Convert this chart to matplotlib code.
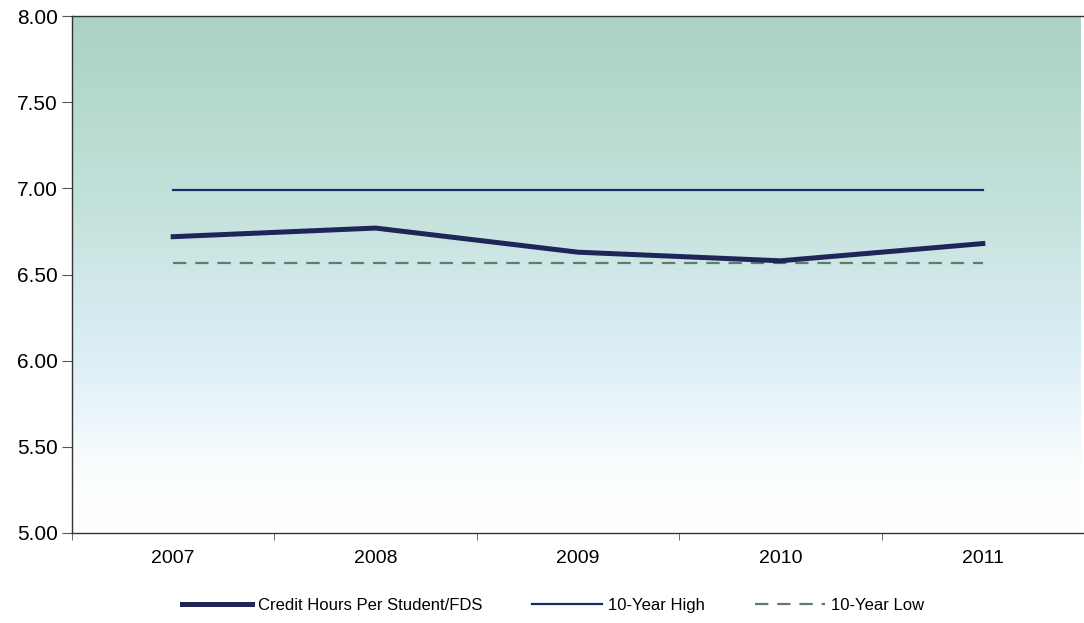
import matplotlib
matplotlib.use("Agg")
import matplotlib.pyplot as plt
import numpy as np
from matplotlib.colors import LinearSegmentedColormap

plt.rcParams["font.family"] = ["Liberation Sans", "DejaVu Sans"]

years = ["2007", "2008", "2009", "2010", "2011"]
credit_hours = [6.72, 6.77, 6.63, 6.58, 6.68]
ten_year_high = [6.99, 6.99, 6.99, 6.99, 6.99]
ten_year_low = [6.57, 6.57, 6.57, 6.57, 6.57]

fig = plt.figure(figsize=(10.84, 6.23), dpi=100)
ax = fig.add_axes([0.0664, 0.1445, 0.9336, 0.8295])

x = np.arange(len(years))
ax.set_xlim(-0.5, 4.485)
ax.set_ylim(5.0, 8.0)

# background gradient: teal-green at top -> light blue -> white at bottom
cmap = LinearSegmentedColormap.from_list(
    "bg", [(0.0, "#ffffff"), (0.12, "#fafdfe"), (0.35, "#dceef6"),
           (0.6, "#c6e3de"), (1.0, "#abd2c3")])
grad = np.linspace(0, 1, 256).reshape(-1, 1)
ax.imshow(grad, aspect="auto", cmap=cmap, origin="lower",
          extent=[-0.5, 4.485, 5.0, 8.0], zorder=0)

ax.plot(x, ten_year_high, color="#1c2a66", lw=1.6, zorder=3, label="10-Year High")
ax.plot(x, ten_year_low, color="#5b7d6c", lw=1.6, ls=(0, (6, 4)), zorder=3,
        label="10-Year Low")
ax.plot(x, credit_hours, color="#1e2658", lw=3.6, zorder=4,
        label="Credit Hours Per Student/FDS", solid_joinstyle="round")

ax.set_yticks([5.0, 5.5, 6.0, 6.5, 7.0, 7.5, 8.0])
ax.set_yticklabels([f"{v:.2f}" for v in ax.get_yticks()])
ax.set_xticks(x)
ax.set_xticklabels(years)
ax.set_xticks(np.arange(-0.5, 5.0, 1.0), minor=True)
ax.tick_params(axis="x", which="major", length=0, pad=12, labelsize=14)
ax.tick_params(axis="x", which="minor", length=5, direction="out", color="#555555")
ax.tick_params(axis="y", length=7, direction="out", color="#555555",
               labelsize=15, pad=3)

for s in ("left", "bottom", "top"):
    ax.spines[s].set_color("#333333")
    ax.spines[s].set_linewidth(1.0)
ax.spines["right"].set_visible(False)

h, l = ax.get_legend_handles_labels()
order = [2, 0, 1]
fig.legend([h[i] for i in order], [l[i] for i in order], loc="center",
           bbox_to_anchor=(0.51, 0.028), ncol=3, frameon=False, fontsize=12,
           handlelength=4.2, columnspacing=3.0, handletextpad=0.35)

fig.savefig("out.png", dpi=100)
